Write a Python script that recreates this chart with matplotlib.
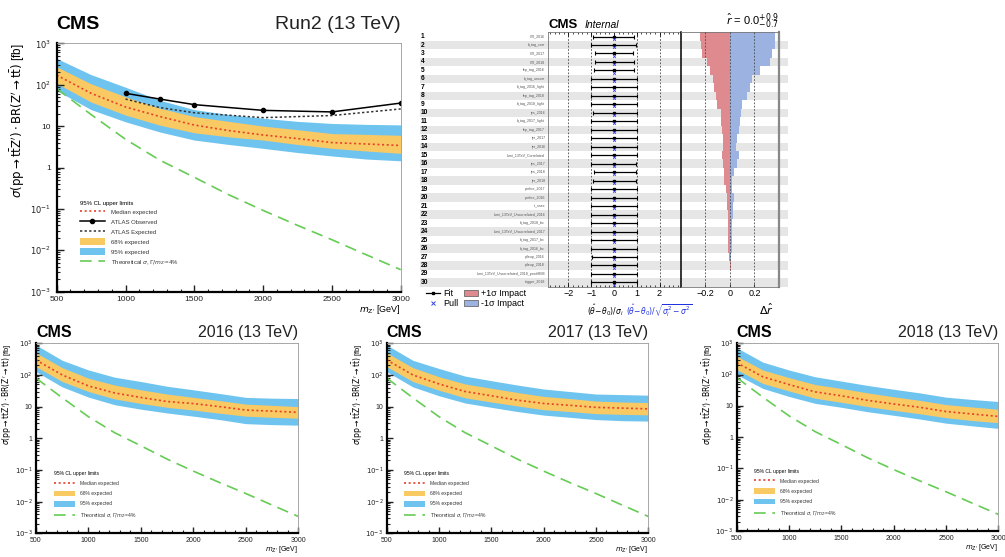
import matplotlib
matplotlib.use("Agg")
import matplotlib.pyplot as plt
from matplotlib import transforms
from matplotlib.patches import Patch, Rectangle
from matplotlib.lines import Line2D
from matplotlib.ticker import MultipleLocator, LogLocator, NullFormatter, FixedLocator, FixedFormatter

plt.rcParams['font.family'] = ['Liberation Sans', 'DejaVu Sans']
plt.rcParams['mathtext.fontset'] = 'dejavusans'

# ---------------- limit data ----------------
mass = [500, 750, 1000, 1250, 1500, 1750, 2000, 2250, 2500, 2750, 3000]
theory = [80, 19, 4.8, 1.5, 0.58, 0.22, 0.092, 0.04, 0.018, 0.0078, 0.0034]

run2_med = [170, 62, 29, 17, 10.6, 7.8, 6.1, 5.0, 4.0, 3.7, 3.4]
run2_hi68 = [270, 105, 51, 27, 17, 13, 10, 8.2, 6.6, 6.3, 6.0]
run2_lo68 = [108, 38, 18.5, 10.5, 6.9, 5.5, 4.6, 3.6, 2.9, 2.5, 2.2]
run2_hi95 = [430, 175, 87, 42, 25, 19, 15.5, 13, 11.6, 11, 10.7]
run2_lo95 = [72, 25, 12.7, 7.2, 4.6, 3.6, 2.9, 2.3, 1.9, 1.6, 1.45]

atlas_mass = [1000, 1250, 1500, 2000, 2500, 3000]
atlas_obs = [62, 45, 33, 24, 22, 36]
atlas_exp = [45, 28, 21, 16, 18, 26]

y16_med = [297, 100, 45, 27, 19.5, 14.5, 12.5, 10, 7.8, 7.2, 6.6]
y16_hi68 = [500, 170, 79, 48, 34, 25, 19.6, 15.5, 12, 11, 10]
y16_lo68 = [183, 62, 30, 17.5, 12.6, 9.5, 7.8, 6.2, 5, 4.6, 4.3]
y16_hi95 = [885, 290, 144, 85, 62, 44, 34, 26, 19.6, 18.5, 18]
y16_lo95 = [127, 42, 20, 11.5, 8.3, 6.3, 5, 3.9, 2.9, 2.7, 2.6]

y17_med = [300, 100, 52, 30, 22, 16, 12.6, 11, 9.5, 9, 8.5]
y17_hi68 = [500, 170, 88, 52, 38, 28, 21, 18, 15, 14, 13.4]
y17_lo68 = [183, 62, 33, 19, 14, 10.5, 8, 7, 6, 5.7, 5.5]
y17_hi95 = [885, 290, 160, 92, 66, 48, 36, 30, 25, 24, 23]
y17_lo95 = [127, 42, 22, 13, 9.5, 7, 5.4, 4.6, 3.9, 3.6, 3.5]

y18_med = [240, 85, 48, 28, 21, 15, 11.5, 9, 6.6, 5.5, 4.6]
y18_hi68 = [390, 140, 80, 48, 36, 26, 19.5, 15, 11, 9.2, 7.8]
y18_lo68 = [145, 52, 30, 17.5, 13, 9.5, 7.2, 5.6, 4.2, 3.4, 2.9]
y18_hi95 = [720, 250, 140, 85, 62, 45, 34, 26, 19, 16, 13.8]
y18_lo95 = [100, 36, 20, 12, 9, 6.5, 5, 3.8, 2.8, 2.3, 1.9]

# ---------------- impact data ----------------
rows = list(range(1, 31))
nuis_names = ["CR_2016", "b_tag_corr", "CR_2017", "CR_2018", "lep_tag_2016", "b_tag_uncorr",
              "b_tag_2016_light", "lep_tag_2018", "b_tag_2018_light", "jes_2016", "b_tag_2017_light",
              "lep_tag_2017", "jer_2017", "jer_2016", "lumi_13TeV_Correlated", "jes_2017", "jes_2018",
              "jer_2018", "prefire_2017", "prefire_2016", "tt_xsec", "lumi_13TeV_Uncorrelated_2016",
              "b_tag_2018_bc", "lumi_13TeV_Uncorrelated_2017", "b_tag_2017_bc", "b_tag_2016_bc",
              "pileup_2016", "pileup_2018", "lumi_13TeV_Uncorrelated_2018_postHEM", "trigger_2018"]
pull_val = [0.0, 0.0, 0.0, 0.0, 0.0, 0.0, 0.0, 0.0, 0.0, 0.0, 0.0, 0.0, 0.0, 0.0, 0.0,
            0.0, 0.0, 0.0, 0.0, 0.0, 0.0, 0.0, 0.0, 0.0, 0.0, 0.0, 0.0, 0.0, 0.0, 0.0]
pull_lo = [0.92, 1.0, 0.83, 0.85, 0.86, 1.0, 0.99, 0.99, 0.99, 0.93, 0.99, 0.99, 0.99, 0.99, 0.99,
           1.0, 0.9, 0.92, 0.99, 0.99, 0.99, 0.99, 0.99, 0.99, 0.99, 0.99, 0.97, 0.99, 0.99, 0.99]
pull_hi = [0.88, 0.98, 0.83, 0.88, 0.88, 0.99, 0.99, 0.99, 0.99, 0.99, 0.99, 0.99, 0.99, 0.99, 0.99,
           0.98, 0.95, 0.95, 0.99, 0.99, 0.99, 0.99, 0.99, 0.99, 0.99, 0.99, 0.99, 0.99, 0.99, 0.99]
impact_up = [-0.24, -0.234, -0.226, -0.185, -0.158, -0.136, -0.131, -0.109, -0.103, -0.076,
             -0.068, -0.063, -0.054, -0.054, -0.063, -0.054, -0.049, -0.044, -0.035, -0.022,
             -0.027, -0.016, -0.016, -0.014, -0.011, -0.011, -0.005, 0.008, -0.002, -0.001]
impact_down = [0.37, 0.365, 0.346, 0.327, 0.245, 0.182, 0.163, 0.136, 0.10, 0.087,
               0.082, 0.073, 0.06, 0.046, 0.073, 0.060, 0.033, 0.019, 0.014, 0.033,
               0.027, 0.022, 0.019, 0.016, 0.014, 0.014, 0.008, -0.002, 0.003, 0.002]

C68 = '#F9C964'
C95 = '#6EC4EE'
CMED = '#E8402A'
CTH = '#66CC55'

W, H = 1005, 557
fig = plt.figure(figsize=(W / 100, H / 100), dpi=100)


def px_axes(x0, y0, x1, y1):
    return fig.add_axes([x0 / W, 1 - y1 / H, (x1 - x0) / W, (y1 - y0) / H])


def draw_limits(ax, med, lo68, hi68, lo95, hi95, era, big=False):
    fs_tick = 6 if big else 5
    ax.fill_between(mass, lo95, hi95, color=C95, lw=0)
    ax.fill_between(mass, lo68, hi68, color=C68, lw=0)
    ax.plot(mass, med, color=CMED, lw=1.2, ls=(0, (1.2, 1.6)))
    ax.plot(mass, theory, color=CTH, lw=1.2, ls=(0, (7, 4)))
    handles = [Line2D([], [], color=CMED, lw=1.2, ls=(0, (1.2, 1.6)))]
    labels = ['Median expected']
    if big:
        ax.plot(atlas_mass, atlas_obs, color='k', lw=1.1, marker='o', ms=3)
        ax.plot(atlas_mass, atlas_exp, color='#333333', lw=1.1, ls=(0, (1.5, 1.5)))
        handles += [Line2D([], [], color='k', lw=1.1, marker='o', ms=3),
                    Line2D([], [], color='#333333', lw=1.1, ls=(0, (1.5, 1.5)))]
        labels += ['ATLAS Observed', 'ATLAS Expected']
    handles += [Patch(color=C68, lw=0), Patch(color=C95, lw=0),
                Line2D([], [], color=CTH, lw=1.2, ls=(0, (7, 4)))]
    labels += ['68% expected', '95% expected', r'Theoretical $\sigma$, $\Gamma/m_{\mathrm{Z}^{\prime}}$=4%']

    ax.set_yscale('log')
    ax.set_xlim(500, 3000)
    ax.set_ylim(1e-3, 1e3)
    ax.set_xticks([500, 1000, 1500, 2000, 2500, 3000])
    ax.xaxis.set_minor_locator(MultipleLocator(100))
    ax.yaxis.set_major_locator(FixedLocator([1e-3, 1e-2, 1e-1, 1, 10, 1e2, 1e3]))
    ax.yaxis.set_major_formatter(FixedFormatter([r'$10^{-3}$', r'$10^{-2}$', r'$10^{-1}$', '1', '10',
                                                 r'$10^{2}$', r'$10^{3}$']))
    ax.yaxis.set_minor_locator(LogLocator(base=10, subs=range(2, 10), numticks=20))
    ax.yaxis.set_minor_formatter(NullFormatter())
    ax.tick_params(which='both', direction='in', labelsize=fs_tick, colors='#222222')
    ax.tick_params(axis='x', pad=3)
    ax.tick_params(axis='y', pad=4 if big else 2.5)
    ax.tick_params(which='major', length=5 if big else 4, width=1)
    ax.tick_params(which='minor', length=2.5 if big else 2, width=0.8)
    for s in ['left', 'bottom']:
        ax.spines[s].set_linewidth(1.6)
    for s in ['top', 'right']:
        ax.spines[s].set_linewidth(0.6)
        ax.spines[s].set_color('#999999')

    ylab = (r'$\sigma(\mathrm{pp} \rightarrow \mathrm{t\bar{t}Z^{\prime}}) \cdot '
            r'\mathrm{BR}(\mathrm{Z^{\prime}} \rightarrow \mathrm{t\bar{t}})$ [fb]')
    ax.set_ylabel(ylab, loc='top', fontsize=8.5 if big else 5.5, labelpad=2 if big else 0.5)
    ax.set_xlabel(r"$m_{\mathrm{Z}^{\prime}}$ [GeV]", loc='right', fontsize=6.5 if big else 5, labelpad=0)

    ax.text(0, 1.015 if not big else 1.04, 'CMS', transform=ax.transAxes, fontsize=14 if big else 11.5,
            fontweight='bold', ha='left', va='bottom')
    ax.text(1.0, 1.015 if not big else 1.04, era, transform=ax.transAxes, fontsize=14 if big else 11.5,
            ha='right', va='bottom', color='#222222')

    leg = ax.legend(handles, labels, title='95% CL upper limits', loc='lower left',
                    bbox_to_anchor=(0.06, 0.09) if big else (0.06, 0.06),
                    fontsize=4.3 if big else 3.6, title_fontsize=4.3 if big else 3.6,
                    frameon=False, alignment='left', handlelength=4.2, handleheight=1.4,
                    labelspacing=0.5 if big else 0.9, handletextpad=1.0, borderaxespad=0)
    for t in leg.get_texts():
        t.set_color('#333333')


# ---------------- top-left Run2 ----------------
ax_run2 = px_axes(56.7, 43.3, 400.7, 291.7)
draw_limits(ax_run2, run2_med, run2_lo68, run2_hi68, run2_lo95, run2_hi95, 'Run2 (13 TeV)', big=True)

# ---------------- bottom per-year ----------------
ax16 = px_axes(36, 343.3, 298.3, 533.3)
draw_limits(ax16, y16_med, y16_lo68, y16_hi68, y16_lo95, y16_hi95, '2016 (13 TeV)')
ax17 = px_axes(386.7, 343.3, 648.3, 533.3)
draw_limits(ax17, y17_med, y17_lo68, y17_hi68, y17_lo95, y17_hi95, '2017 (13 TeV)')
ax18 = px_axes(736.7, 343.3, 998.3, 531)
draw_limits(ax18, y18_med, y18_lo68, y18_hi68, y18_lo95, y18_hi95, '2018 (13 TeV)')

# ---------------- impact plot ----------------
ax_pull = px_axes(548, 32.3, 680, 286.7)
ax_imp = px_axes(680.7, 32.3, 779, 286.7)
for a in (ax_pull, ax_imp):
    a.set_facecolor('none')
    a.set_ylim(30.5, 0.5)
    a.set_yticks([])

blend = transforms.blended_transform_factory(fig.transFigure, ax_pull.transData)
for r in rows:
    if r % 2 == 0:
        fig.add_artist(Rectangle((420 / W, r - 0.5), (788 - 420) / W, 1.0, transform=blend,
                                 color='#E6E6E6', lw=0, zorder=-5))
    fig.text(421 / W, r, str(r), transform=blend, fontsize=4.8, fontweight='bold', va='center', ha='left')
    fig.text(545 / W, r, nuis_names[r - 1], transform=blend, fontsize=2.6, va='center', ha='right',
             color='#555555')

ax_pull.set_xlim(-2.9, 2.9)
for v in (-2, -1, 1, 2):
    ax_pull.axvline(v, color='#444444', lw=0.6, ls=(0, (2, 2)), zorder=1)
ax_pull.errorbar(pull_val, rows, xerr=[pull_lo, pull_hi], fmt='s', ms=2, color='k', lw=0.9,
                 capsize=1.6, capthick=0.8, zorder=3)
ax_pull.plot(pull_val, [r + 0.25 for r in rows], ls='none', marker='x', ms=2, mew=0.6, color='#3344EE',
             zorder=4)
ax_pull.set_xticks([-2, -1, 0, 1, 2])
ax_pull.xaxis.set_minor_locator(MultipleLocator(0.2))
ax_pull.tick_params(which='both', direction='in', top=True, labelsize=6.5, pad=2)
ax_pull.tick_params(which='major', length=3, width=0.6)
ax_pull.tick_params(which='minor', length=1.5, width=0.5)
for s in ax_pull.spines.values():
    s.set_linewidth(0.6)
    s.set_color('#777777')
ax_pull.spines['right'].set_visible(False)
ax_pull.text(0.575, -0.06, r'$(\hat{\theta}\!-\!\theta_0)/\sigma_i$', transform=ax_pull.transAxes,
             fontsize=5.5, ha='right', va='top')
ax_pull.text(0.59, -0.06, r'$(\hat{\theta}\!-\!\theta_0)/\sqrt{\sigma_i^2-\sigma^2}$',
             transform=ax_pull.transAxes, fontsize=5.5, ha='left', va='top', color='#2233DD')

ax_imp.barh(rows, impact_up, height=1.0, color='#DE8A8E', lw=0, zorder=2)
ax_imp.barh(rows, impact_down, height=1.0, color='#9CB3E1', lw=0, zorder=2)
ax_imp.set_xlim(-0.4, 0.4)
for v in (-0.2, 0, 0.2):
    ax_imp.axvline(v, color='#444444', lw=0.6, ls=(0, (2, 2)), zorder=3)
ax_imp.set_xticks([-0.2, 0, 0.2])
ax_imp.set_xticklabels(['\u22120.2', '0', '0.2'])
ax_imp.tick_params(which='both', direction='in', labelsize=6.5, length=2, width=0.6, pad=2)
ax_imp.spines['left'].set_linewidth(1.1)
ax_imp.spines['left'].set_color('k')
ax_imp.spines['right'].set_linewidth(1.6)
ax_imp.spines['right'].set_color('#888888')
ax_imp.spines['top'].set_linewidth(0.6)
ax_imp.spines['top'].set_color('#777777')
ax_imp.spines['bottom'].set_linewidth(0.6)
ax_imp.spines['bottom'].set_color('#777777')
ax_imp.text(0.95, -0.06, r'$\Delta\hat{r}$', transform=ax_imp.transAxes, fontsize=8, ha='right', va='top')
ax_imp.text(1.0, 1.01, r'$\hat{r}$ = 0.0$^{+0.9}_{-0.7}$', transform=ax_imp.transAxes, fontsize=8,
            ha='right', va='bottom')

fig.text(548 / W, 1 - 28 / H, 'CMS', fontsize=9.5, fontweight='bold', ha='left', va='baseline')
fig.text(585 / W, 1 - 28 / H, 'Internal', fontsize=7.5, style='italic', ha='left', va='baseline')

imp_handles = [Line2D([], [], color='k', lw=0.9, marker='s', ms=2),
               Line2D([], [], color='#3344EE', ls='none', marker='x', ms=3, mew=0.7),
               Patch(facecolor='#DE8A8E', edgecolor='#555555', lw=0.5),
               Patch(facecolor='#9CB3E1', edgecolor='#555555', lw=0.5)]
fig.legend(imp_handles, ['Fit', 'Pull', '+1\u03c3 Impact', '-1\u03c3 Impact'], ncol=2, loc='upper left',
           bbox_to_anchor=(426 / W, 1 - 289 / H), fontsize=6.5, frameon=False, handlelength=1.6,
           columnspacing=0.6, labelspacing=0.15, handletextpad=0.3, borderaxespad=0, borderpad=0)

fig.savefig('out.png', dpi=100)
